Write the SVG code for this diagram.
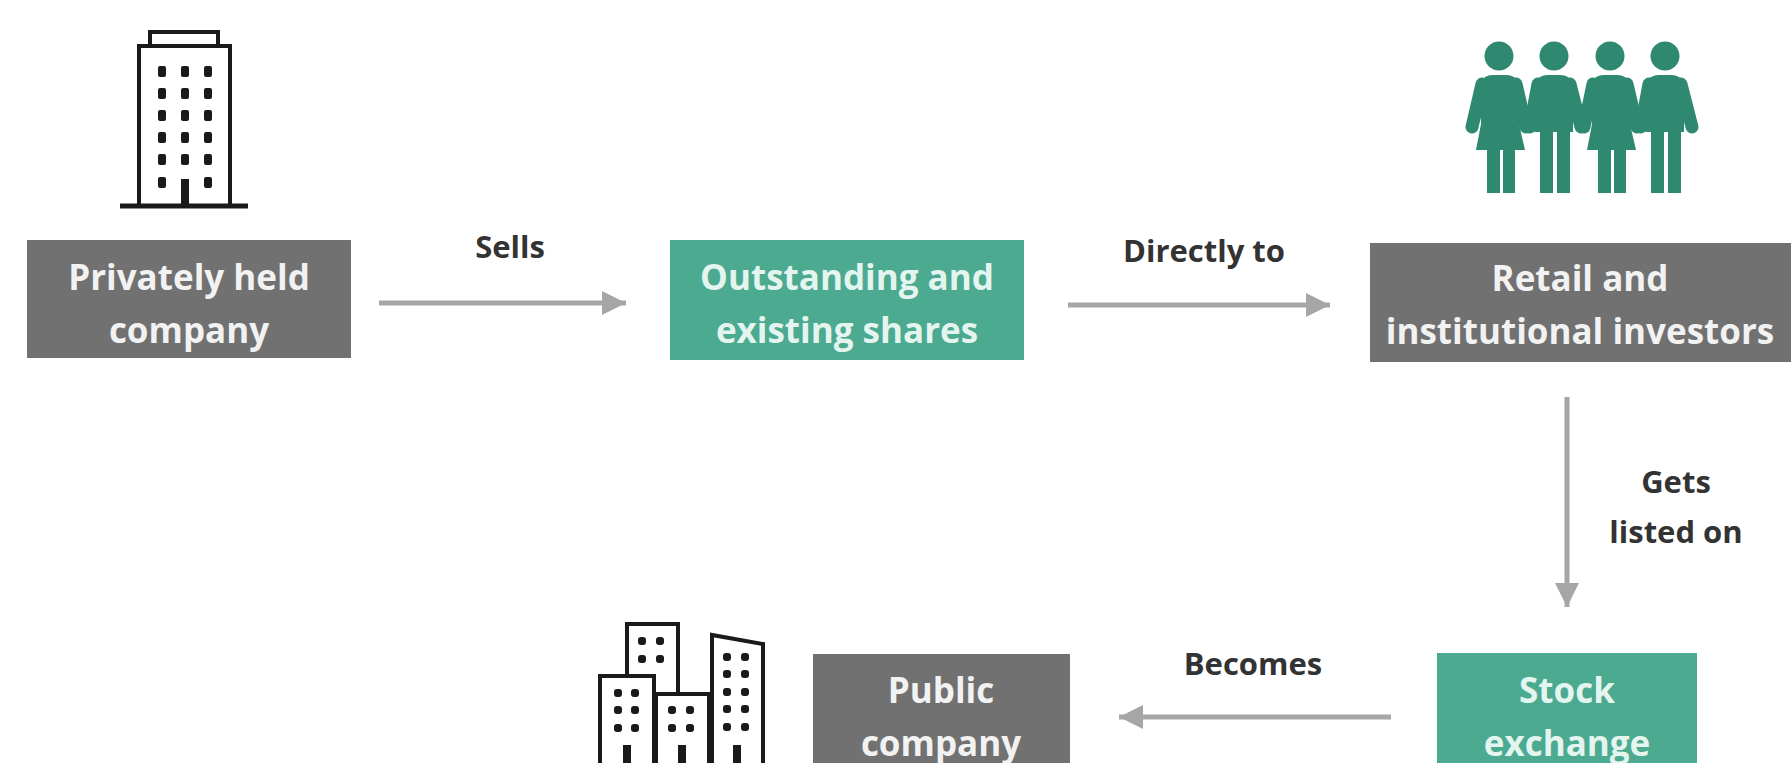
<svg xmlns="http://www.w3.org/2000/svg" width="1791" height="763" viewBox="0 0 1791 763">
<defs>
<style>
.box-gray{fill:#717171}
.box-teal{fill:#4baa90}
.t-gray{fill:#f2f2f2;font-family:"Open Sans","Liberation Sans",sans-serif;font-weight:bold;font-size:35px;text-anchor:middle}
.t-teal{fill:#e4f5ef;font-family:"Open Sans","Liberation Sans",sans-serif;font-weight:bold;font-size:35px;text-anchor:middle}
.lbl{fill:#333;font-family:"Open Sans","Liberation Sans",sans-serif;font-weight:bold;font-size:31px;text-anchor:middle}
.conn{stroke:#a6a6a6;stroke-width:5;fill:none}
.ico{fill:#fff;stroke:#1a1a1a;stroke-width:4}
.win{fill:#1a1a1a}
.ppl{fill:#2f8870}
.arm{stroke:#2f8870;stroke-width:13;stroke-linecap:round;fill:none}
</style>
<marker id="ah" markerUnits="userSpaceOnUse" markerWidth="26" markerHeight="26" refX="24" refY="12" orient="auto">
<path d="M0,0 L24,12 L0,24 Z" fill="#a6a6a6"/>
</marker>
</defs>
<rect width="1791" height="763" fill="#fff"/>

<g id="connectors">
<line class="conn" x1="379" y1="303" x2="626" y2="303" marker-end="url(#ah)"/>
<line class="conn" x1="1068" y1="305" x2="1330" y2="305" marker-end="url(#ah)"/>
<line class="conn" x1="1567" y1="397" x2="1567" y2="607" marker-end="url(#ah)"/>
<line class="conn" x1="1391" y1="717" x2="1119" y2="717" marker-end="url(#ah)"/>
<text class="lbl" x="510" y="258">Sells</text>
<text class="lbl" x="1204" y="262">Directly to</text>
<text class="lbl" x="1676" y="493">Gets</text>
<text class="lbl" x="1676" y="543">listed on</text>
<text class="lbl" x="1253" y="675">Becomes</text>
</g>

<g id="icon-building">
<rect class="ico" x="150" y="32" width="68" height="14"/>
<rect class="ico" x="139" y="46" width="91" height="160"/>
<line x1="120" y1="206" x2="248" y2="206" stroke="#1a1a1a" stroke-width="5"/>
<g class="win">
<rect x="158" y="66" width="8" height="11" rx="2"/><rect x="181" y="66" width="8" height="11" rx="2"/><rect x="204" y="66" width="8" height="11" rx="2"/>
<rect x="158" y="88" width="8" height="11" rx="2"/><rect x="181" y="88" width="8" height="11" rx="2"/><rect x="204" y="88" width="8" height="11" rx="2"/>
<rect x="158" y="110" width="8" height="11" rx="2"/><rect x="181" y="110" width="8" height="11" rx="2"/><rect x="204" y="110" width="8" height="11" rx="2"/>
<rect x="158" y="132" width="8" height="11" rx="2"/><rect x="181" y="132" width="8" height="11" rx="2"/><rect x="204" y="132" width="8" height="11" rx="2"/>
<rect x="158" y="154" width="8" height="11" rx="2"/><rect x="181" y="154" width="8" height="11" rx="2"/><rect x="204" y="154" width="8" height="11" rx="2"/>
<rect x="158" y="177" width="8" height="11" rx="2"/><rect x="181" y="179" width="8" height="27"/><rect x="204" y="177" width="8" height="11" rx="2"/>
</g>
</g>

<g id="node-private">
<rect class="box-gray" x="27" y="240" width="324" height="118"/>
<text class="t-gray" x="189" y="290">Privately held</text>
<text class="t-gray" x="189" y="343">company</text>
</g>

<g id="node-shares">
<rect class="box-teal" x="670" y="240" width="354" height="120"/>
<text class="t-teal" x="847" y="290">Outstanding and</text>
<text class="t-teal" x="847" y="343">existing shares</text>
</g>

<g id="icon-people">
<g>
<circle class="ppl" cx="1499" cy="56" r="14.5"/>
<path class="ppl" d="M1480,90 Q1480,75 1493,75 L1506,75 Q1519,75 1519,90 L1519,124 L1525,150 L1476,150 L1481,124 Z"/>
<rect class="ppl" x="1487" y="146" width="13" height="47"/>
<rect class="ppl" x="1503" y="146" width="12" height="47"/>
<path class="arm" d="M1482,84 L1472,127 M1516,84 L1526,127"/>
</g>
<g>
<circle class="ppl" cx="1554" cy="56" r="14.5"/>
<path class="ppl" d="M1535,90 Q1535,75 1548,75 L1560,75 Q1573,75 1573,90 L1573,132 L1535,132 Z"/>
<rect class="ppl" x="1540" y="126" width="13" height="67"/>
<rect class="ppl" x="1557" y="126" width="13" height="67"/>
<path class="arm" d="M1538,84 L1530,127 M1570,84 L1581,127"/>
</g>
<g>
<circle class="ppl" cx="1610" cy="56" r="14.5"/>
<path class="ppl" d="M1591,90 Q1591,75 1604,75 L1617,75 Q1630,75 1630,90 L1630,124 L1636,150 L1587,150 L1592,124 Z"/>
<rect class="ppl" x="1598" y="146" width="13" height="47"/>
<rect class="ppl" x="1614" y="146" width="12" height="47"/>
<path class="arm" d="M1593,84 L1584,127 M1627,84 L1637,127"/>
</g>
<g>
<circle class="ppl" cx="1665" cy="56" r="14.5"/>
<path class="ppl" d="M1646,90 Q1646,75 1659,75 L1671,75 Q1684,75 1684,90 L1684,132 L1646,132 Z"/>
<rect class="ppl" x="1651" y="126" width="13" height="67"/>
<rect class="ppl" x="1668" y="126" width="13" height="67"/>
<path class="arm" d="M1649,84 L1641,127 M1681,84 L1692,127"/>
</g>
</g>

<g id="node-investors">
<rect class="box-gray" x="1370" y="243" width="421" height="119"/>
<text class="t-gray" x="1580" y="291">Retail and</text>
<text class="t-gray" x="1580" y="344">institutional investors</text>
</g>

<g id="node-exchange">
<rect class="box-teal" x="1437" y="653" width="260" height="115"/>
<text class="t-teal" x="1567" y="703">Stock</text>
<text class="t-teal" x="1567" y="756">exchange</text>
</g>

<g id="node-public">
<rect class="box-gray" x="813" y="654" width="257" height="115"/>
<text class="t-gray" x="941" y="703">Public</text>
<text class="t-gray" x="941" y="756">company</text>
</g>

<g id="icon-buildings">
<rect class="ico" x="627" y="624" width="51" height="80"/>
<rect class="ico" x="600" y="676" width="54" height="100"/>
<rect class="ico" x="656" y="694" width="53" height="100"/>
<path class="ico" d="M712,773 L712,635 L763,644 L763,773 Z"/>
<g class="win">
<rect x="638" y="637" width="8" height="8" rx="3"/><rect x="656" y="637" width="8" height="8" rx="3"/>
<rect x="638" y="655" width="8" height="8" rx="3"/><rect x="656" y="655" width="8" height="8" rx="3"/>
<rect x="614" y="689" width="8" height="8" rx="3"/><rect x="631" y="689" width="8" height="8" rx="3"/>
<rect x="614" y="706" width="8" height="8" rx="3"/><rect x="631" y="706" width="8" height="8" rx="3"/>
<rect x="614" y="724" width="8" height="8" rx="3"/><rect x="631" y="724" width="8" height="8" rx="3"/>
<rect x="623" y="745" width="8" height="20"/>
<rect x="668" y="706" width="8" height="8" rx="3"/><rect x="686" y="706" width="8" height="8" rx="3"/>
<rect x="668" y="724" width="8" height="8" rx="3"/><rect x="686" y="724" width="8" height="8" rx="3"/>
<rect x="678" y="745" width="8" height="20"/>
<rect x="723" y="653" width="8" height="8" rx="3"/><rect x="741" y="653" width="8" height="8" rx="3"/>
<rect x="723" y="670" width="8" height="8" rx="3"/><rect x="741" y="670" width="8" height="8" rx="3"/>
<rect x="723" y="688" width="8" height="8" rx="3"/><rect x="741" y="688" width="8" height="8" rx="3"/>
<rect x="723" y="705" width="8" height="8" rx="3"/><rect x="741" y="705" width="8" height="8" rx="3"/>
<rect x="723" y="723" width="8" height="8" rx="3"/><rect x="741" y="723" width="8" height="8" rx="3"/>
<rect x="733" y="745" width="8" height="20"/>
</g>
</g>
</svg>
